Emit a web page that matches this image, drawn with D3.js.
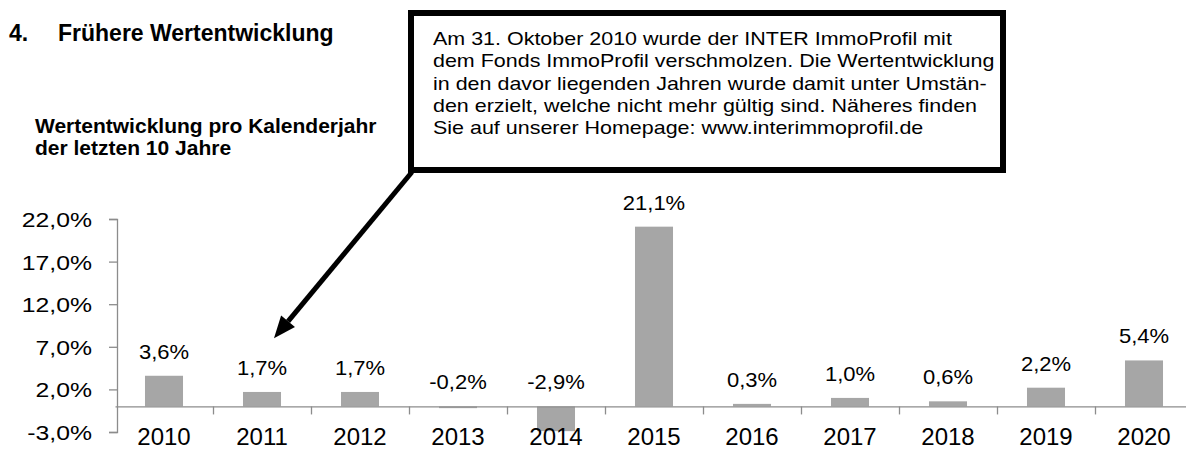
<!DOCTYPE html>
<html>
<head>
<meta charset="utf-8">
<script src="https://cdn.jsdelivr.net/npm/d3@7"></script>
<style>
  body { margin: 0; background: #fff; }
  svg { display: block; font-family: Arial, "Liberation Sans", sans-serif; }
</style>
</head>
<body>
<div id="chart"></div>
<script>
// Data
const years = ['2010', '2011', '2012', '2013', '2014', '2015', '2016', '2017', '2018', '2019', '2020'];
const values = [3.6, 1.7, 1.7, -0.2, -2.9, 21.1, 0.3, 1.0, 0.6, 2.2, 5.4];
const yTicks = [-3, 2, 7, 12, 17, 22];
const heading = ['4.', 'Frühere Wertentwicklung'];
const subtitle = ['Wertentwicklung pro Kalenderjahr', 'der letzten 10 Jahre'];
const noteLines = [
  'Am 31. Oktober 2010 wurde der INTER ImmoProfil mit',
  'dem Fonds ImmoProfil verschmolzen. Die Wertentwicklung',
  'in den davor liegenden Jahren wurde damit unter Umstän-',
  'den erzielt, welche nicht mehr gültig sind. Näheres finden',
  'Sie auf unserer Homepage: www.interimmoprofil.de'
];

const width = 1186, height = 450;
const plot = { left: 115, right: 1193, top: 219, bottom: 432 };

const de = d3.formatLocale({ decimal: ',', thousands: '.', grouping: [3], currency: ['', '€'], minus: '-' });
const pct = v => de.format('.1f')(v) + '%';

const svg = d3.select('#chart').append('svg')
  .attr('width', width)
  .attr('height', height);

// Scales
const x = d3.scaleBand().domain(years).range([plot.left, plot.right])
  .paddingInner(0.612).paddingOuter(0.306);
const xEdge = d3.scaleLinear().domain([0, years.length]).range([plot.left, plot.right]);
const y = d3.scaleLinear().domain([-3, 22]).range([plot.bottom, plot.top]);

// stretch text horizontally around its anchor point
const stretch = (sel, sx) => sel.each(function() {
  const t = d3.select(this);
  const tx = +t.attr('x') || 0, ty = +t.attr('y') || 0;
  t.attr('x', 0).attr('y', 0)
    .attr('transform', `translate(${tx},${ty}) scale(${sx},1)`);
});

// Y axis
const yAxis = svg.append('g')
  .attr('class', 'y axis')
  .attr('transform', `translate(${plot.left + 2},0)`)
  .call(d3.axisLeft(y).tickValues(yTicks).tickSize(8).tickSizeOuter(8).tickPadding(17).tickFormat(pct));
yAxis.select('.domain').attr('stroke', '#8c8c8c').attr('stroke-width', 1.3);
yAxis.selectAll('.tick line').attr('stroke', '#8c8c8c').attr('stroke-width', 1.3);
yAxis.selectAll('.tick text')
  .attr('font-size', 21).attr('fill', '#000').attr('font-family', null)
  .attr('dy', null).attr('y', 7.5)
  .call(stretch, 1.18);

// Bars
svg.append('g').selectAll('rect')
  .data(values)
  .join('rect')
  .attr('x', (d, i) => x(years[i]))
  .attr('y', d => y(Math.max(d, 0)))
  .attr('width', x.bandwidth())
  .attr('height', d => Math.abs(y(d) - y(0)))
  .attr('fill', '#a6a6a6');

// X axis (zero line with ticks on category edges)
const xAxis = svg.append('g')
  .attr('class', 'x axis')
  .attr('transform', `translate(0,${y(0)})`)
  .call(d3.axisBottom(xEdge).tickValues(d3.range(1, years.length + 1)).tickSize(8).tickSizeOuter(0).tickFormat(''));
xAxis.select('.domain').attr('stroke', '#8c8c8c').attr('stroke-width', 1.3);
xAxis.selectAll('.tick line').attr('stroke', '#8c8c8c').attr('stroke-width', 1.3);

// Year labels
svg.append('g').selectAll('text')
  .data(years)
  .join('text')
  .attr('x', d => x(d) + x.bandwidth() / 2)
  .attr('y', 445)
  .attr('text-anchor', 'middle')
  .attr('font-size', 24)
  .text(d => d);

// Value labels
svg.append('g').selectAll('text')
  .data(values)
  .join('text')
  .attr('x', (d, i) => x(years[i]) + x.bandwidth() / 2)
  .attr('y', d => y(Math.max(d, 0)) - 17)
  .attr('text-anchor', 'middle')
  .attr('font-size', 20)
  .text(pct)
  .call(stretch, 1.1);

// Heading
svg.append('text').attr('x', 9).attr('y', 41)
  .attr('font-size', 23).attr('font-weight', 'bold').text(heading[0]);
svg.append('text').attr('x', 58).attr('y', 41)
  .attr('font-size', 23).attr('font-weight', 'bold').text(heading[1]);

svg.append('g').selectAll('text')
  .data(subtitle)
  .join('text')
  .attr('x', 35)
  .attr('y', (d, i) => 133 + i * 21.5)
  .attr('font-size', 21)
  .attr('font-weight', 'bold')
  .text(d => d);

// Annotation box
const box = { x: 411, y: 13, w: 592, h: 157 };
svg.append('rect')
  .attr('x', box.x).attr('y', box.y)
  .attr('width', box.w).attr('height', box.h)
  .attr('fill', '#fff').attr('stroke', '#000').attr('stroke-width', 6);

svg.append('g').selectAll('text')
  .data(noteLines)
  .join('text')
  .attr('x', 433)
  .attr('y', (d, i) => 45 + i * 22.3)
  .attr('font-size', 19)
  .text(d => d)
  .call(stretch, 1.13);

// Arrow from box corner to the 2011 column
const from = [box.x + 1, box.y + box.h + 2];
const tip = [274, y(8)];
const ang = Math.atan2(tip[1] - from[1], tip[0] - from[0]);
const headLen = 22, headW = 9;
const base = [tip[0] - headLen * Math.cos(ang), tip[1] - headLen * Math.sin(ang)];
svg.append('line')
  .attr('x1', from[0]).attr('y1', from[1])
  .attr('x2', base[0]).attr('y2', base[1])
  .attr('stroke', '#000').attr('stroke-width', 5);
svg.append('path')
  .attr('d', d3.line()([
    tip,
    [base[0] + headW * Math.sin(ang), base[1] - headW * Math.cos(ang)],
    [base[0] - headW * Math.sin(ang), base[1] + headW * Math.cos(ang)]
  ]) + 'Z')
  .attr('fill', '#000');
</script>
</body>
</html>
